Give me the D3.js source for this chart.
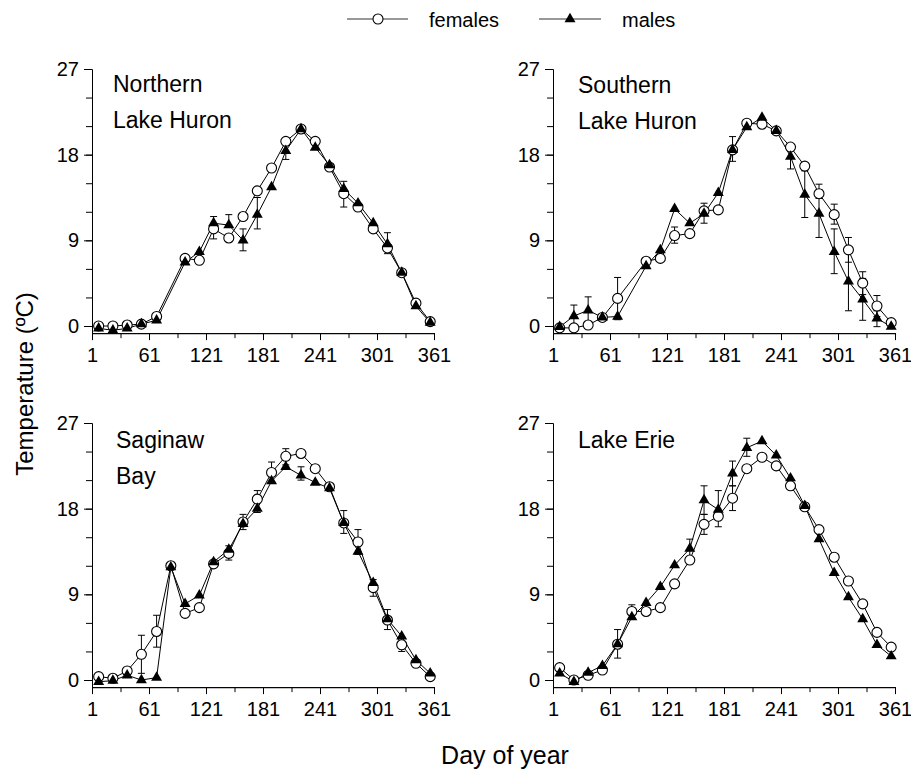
<!DOCTYPE html>
<html><head><meta charset="utf-8">
<script src="https://cdn.jsdelivr.net/npm/d3@7"></script>
<style>
body{margin:0;background:#fff}
svg{display:block}
text{font-family:"Liberation Sans",Arial,sans-serif;fill:#000}
</style>
</head><body>
<svg id="chart" width="911" height="771"></svg>
<script>
// ---------- DATA ----------
const days = [8,23,38,53,69,84,99,114,129,145,160,175,190,205,221,236,251,266,281,297,312,327,342,357];
const xTickLabels = [1,61,121,181,241,301,361];
const yTickLabels = [0,9,18,27];
const seriesNames = ["females","males"];

// Northern Lake Huron
const nlhFemales = [0.0,0.0,0.1,0.2,1.0,null,7.1,6.9,10.2,9.25,11.5,14.2,16.6,19.4,20.7,19.4,16.7,13.9,12.5,10.2,8.2,5.6,2.4,0.46];
const nlhMales   = [-0.25,-0.45,-0.25,0.2,0.6,null,6.7,7.8,10.8,10.6,9.0,11.7,14.6,18.4,20.7,18.75,16.9,14.4,12.9,10.8,8.6,5.6,2.1,0.35];
const nlhBars = [[8,9.15,11.5],[9,10.6,11.7],[10,7.9,10.2],[11,10.2,13.5],[13,17.5,19.3],[17,12.5,15.2],[20,7.6,9.8]];

// Southern Lake Huron
const slhFemales = [-0.2,-0.2,0.1,0.9,2.9,null,6.8,7.1,9.5,9.7,12.1,12.2,18.5,21.3,21.2,20.5,18.8,16.8,13.9,11.7,8.0,4.5,2.1,0.35];
const slhMales   = [-0.1,1.05,1.65,0.9,1.0,null,6.3,7.98,12.3,10.8,11.8,14.0,18.5,20.9,21.9,20.5,17.8,13.8,11.8,7.8,4.7,2.8,0.8,-0.07];
const slhBars = [[1,-0.1,2.2],[2,0.25,3.06],[4,0.66,5.1],[8,8.7,10.4],[10,10.8,12.9],[12,17.3,19.9],[16,16.5,19.0],
                 [17,11.4,16.3],[18,9.3,14.3],[18,13.4,14.9],[19,5.5,10.2],[19,10.7,12.8],[20,1.6,7.8],[20,6.7,9.3],
                 [21,0.6,5.0],[21,3.3,5.7],[22,1.0,3.2],[22,-0.07,1.6]];

// Saginaw Bay
const sbFemales = [0.35,0.18,0.95,2.7,5.1,12.0,7.0,7.6,12.2,13.3,16.6,19.0,21.8,23.5,23.8,22.2,20.3,16.5,14.5,9.7,6.3,3.7,1.76,0.35];
const sbMales   = [-0.18,-0.07,0.5,0.0,0.25,11.85,8.0,8.9,12.4,13.7,16.4,18.0,20.9,22.4,21.5,20.75,20.15,16.5,13.5,10.2,6.4,4.6,2.1,0.7];
const sbBars = [[3,0.7,4.7],[4,3.45,6.8],[9,12.6,14.1],[10,15.8,17.4],[11,17.6,19.9],[12,20.75,22.9],[13,22.6,24.3],
                [14,21.0,22.4],[17,15.4,17.8],[18,13.2,15.8],[19,8.8,10.55],[20,5.3,7.4],[21,3.0,4.5]];

// Lake Erie
const leFemales = [1.3,0.0,0.5,1.05,3.76,7.2,7.2,7.6,10.1,12.6,16.35,17.2,19.1,22.2,23.4,22.5,20.4,18.2,15.8,12.9,10.4,8.0,5.0,3.45];
const leMales   = [0.7,-0.18,0.77,1.5,3.76,6.6,8.1,9.8,12.06,13.8,18.9,17.9,21.7,24.4,25.1,23.6,21.2,18.3,14.8,11.25,8.7,6.4,3.7,2.5];
const leBars = [[4,2.3,5.3],[5,6.5,7.9],[9,12.8,14.8],[10,17.4,20.4],[10,15.3,17.4],[11,16.1,19.9],[12,20.4,23.0],[12,17.8,20.4],[13,23.5,25.4]];

const panelLabels = [["Northern","Lake Huron"],["Southern","Lake Huron"],["Saginaw","Bay"],["Lake Erie"]];

// ---------- DRAW ----------
const svg = d3.select("#chart");
const FONT = '"Liberation Sans",Arial,sans-serif';

const layout = [
  {left:92,  top:69,  labelX:113, labelY:92},
  {left:553, top:69,  labelX:578, labelY:93},
  {left:92,  top:423, labelX:116, labelY:448},
  {left:553, top:423, labelX:578, labelY:448}
];
const panelData = [
  [nlhFemales, nlhMales, nlhBars],
  [slhFemales, slhMales, slhBars],
  [sbFemales, sbMales, sbBars],
  [leFemales, leMales, leBars]
];

const PW = 342;               // width from day 1 to day 361
const PH = 257 * 27.75 / 27;  // height from -0.75 to 27
const tri = d3.symbol().type(d3.symbolTriangle).size(52);

layout.forEach((L, p) => {
  const [fem, mal, bars] = panelData[p];
  const x = d3.scaleLinear().domain([1, 361]).range([L.left, L.left + PW]);
  const y = d3.scaleLinear().domain([-0.75, 27]).range([L.top + PH, L.top]);
  const g = svg.append("g");
  const bottom = L.top + PH;

  const styleAxis = sel => {
    sel.selectAll("path,line").attr("stroke", "#000").attr("stroke-width", 1);
    sel.selectAll("text").attr("font-size", 20).attr("font-family", FONT).attr("fill", "#000");
  };
  g.append("g").attr("transform", `translate(0,${bottom})`)
    .call(d3.axisBottom(x).tickValues(d3.range(1, 362, 30)).tickSize(5).tickSizeOuter(0).tickFormat(""))
    .call(styleAxis);
  g.append("g").attr("transform", `translate(0,${bottom})`)
    .call(d3.axisBottom(x).tickValues(xTickLabels).tickSize(7).tickSizeOuter(0).tickPadding(8))
    .call(styleAxis);
  g.append("g").attr("transform", `translate(${L.left},0)`)
    .call(d3.axisLeft(y).tickValues(d3.range(0, 28, 3)).tickSize(6).tickSizeOuter(0).tickFormat(""))
    .call(styleAxis);
  g.append("g").attr("transform", `translate(${L.left},0)`)
    .call(d3.axisLeft(y).tickValues(yTickLabels).tickSize(8).tickSizeOuter(0).tickPadding(5))
    .call(styleAxis);

  // error bars
  const eb = g.append("g").attr("stroke", "#000").attr("stroke-width", 1);
  bars.forEach(([i, lo, hi]) => {
    const cx = x(days[i]);
    eb.append("line").attr("x1", cx).attr("x2", cx).attr("y1", y(lo)).attr("y2", y(hi));
    [lo, hi].forEach(v => eb.append("line").attr("x1", cx - 3.5).attr("x2", cx + 3.5).attr("y1", y(v)).attr("y2", y(v)));
  });

  // lines
  const line = d3.line().x(d => x(d.day)).y(d => y(d.v));
  const toPts = arr => arr.map((v, i) => ({day: days[i], v})).filter(d => d.v !== null);
  const fPts = toPts(fem), mPts = toPts(mal);
  g.append("path").datum(fPts).attr("d", line).attr("fill", "none").attr("stroke", "#000").attr("stroke-width", 1);
  g.append("path").datum(mPts).attr("d", line).attr("fill", "none").attr("stroke", "#000").attr("stroke-width", 1);

  // markers
  g.selectAll(".fm").data(fPts).enter().append("circle")
    .attr("cx", d => x(d.day)).attr("cy", d => y(d.v)).attr("r", 5)
    .attr("fill", "#fff").attr("stroke", "#000").attr("stroke-width", 1.1);
  g.selectAll(".mm").data(mPts).enter().append("path")
    .attr("d", tri).attr("transform", d => `translate(${x(d.day)},${y(d.v)})`)
    .attr("fill", "#000");

  // panel label
  panelLabels[p].forEach((t, k) => {
    g.append("text").attr("x", L.labelX).attr("y", L.labelY + k * 36)
      .attr("font-size", 23).text(t);
  });
});

// legend
const lg = svg.append("g");
lg.append("line").attr("x1", 347).attr("x2", 408).attr("y1", 19).attr("y2", 19).attr("stroke", "#333").attr("stroke-width", 1);
lg.append("circle").attr("cx", 378).attr("cy", 19).attr("r", 5).attr("fill", "#fff").attr("stroke", "#000").attr("stroke-width", 1.1);
lg.append("text").attr("x", 429).attr("y", 27).attr("font-size", 20).text(seriesNames[0]);
lg.append("line").attr("x1", 539).attr("x2", 601).attr("y1", 19).attr("y2", 19).attr("stroke", "#333").attr("stroke-width", 1);
lg.append("path").attr("d", tri).attr("transform", "translate(570,19)").attr("fill", "#000");
lg.append("text").attr("x", 622).attr("y", 27).attr("font-size", 20).text(seriesNames[1]);

// axis titles
svg.append("text").attr("transform", "translate(33,384) rotate(-90)").attr("text-anchor", "middle")
  .attr("font-size", 24).text("Temperature (ºC)");
svg.append("text").attr("x", 505).attr("y", 764).attr("text-anchor", "middle")
  .attr("font-size", 25).text("Day of year");
</script>
</body></html>
